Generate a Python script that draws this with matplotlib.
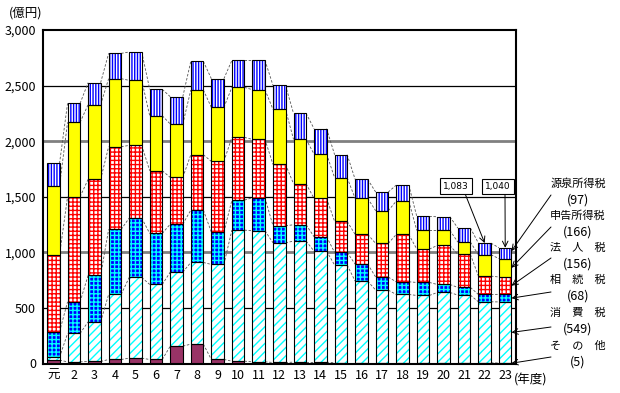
import matplotlib
matplotlib.use("Agg")
import matplotlib.pyplot as plt
import numpy as np

plt.rcParams['font.family'] = ['Noto Sans CJK JP', 'DejaVu Sans']
plt.rcParams['hatch.linewidth'] = 1.0

years = ['元'] + [str(i) for i in range(2, 24)]
other = [30, 15, 18, 36, 48, 36, 156, 174, 36, 21, 15, 9, 12, 12, 6, 6, 6, 6, 6, 6, 6, 6, 5]
consumption = [25, 255, 357, 585, 726, 675, 666, 735, 855, 1179, 1179, 1077, 1089, 999, 879, 735, 654, 615, 606, 633, 609, 549, 549]
inheritance = [230, 285, 417, 585, 534, 459, 432, 471, 291, 270, 297, 153, 147, 129, 114, 153, 117, 114, 117, 72, 69, 66, 68]
corporate = [690, 945, 864, 744, 654, 564, 420, 498, 636, 564, 525, 552, 369, 345, 279, 267, 303, 426, 300, 351, 297, 165, 156]
self_assessed = [624, 669, 672, 612, 585, 495, 480, 582, 486, 450, 447, 495, 399, 399, 393, 324, 294, 300, 168, 135, 111, 192, 166]
withholding = [201, 171, 198, 228, 255, 237, 246, 258, 258, 243, 264, 216, 234, 228, 207, 171, 168, 144, 126, 123, 126, 105, 97]

series_names = ['その他', '消費税', '相続税', '法人税', '申告所得税', '源泉所得税']
label_names = ['そ　の　他', '消　費　税', '相　続　税', '法　人　税', '申告所得税', '源泉所得税']
legend_values = ['(5)', '(549)', '(68)', '(156)', '(166)', '(97)']
callout_labels = ['1,083', '1,040']

series = [other, consumption, inheritance, corporate, self_assessed, withholding]
# (face, hatch colour, hatch)
styles = [
    ('#993366', None, None),
    ('white', '#00FFFF', '////'),
    ('#0000FF', '#00FFFF', '++++'),
    ('white', '#FF0000', '++++'),
    ('#FFFF00', None, None),
    ('white', '#0000FF', '||||||'),
]

W, H = 620, 393
fig = plt.figure(figsize=(W / 100, H / 100), dpi=100)
ax = fig.add_axes([43 / W, 1 - 363.5 / H, (515.5 - 43) / W, (363.5 - 30) / H])

n = len(years)
x = np.arange(n)
bw = 0.61

# grid lines
for v in [500, 1500, 2500]:
    ax.axhline(v, color='black', lw=0.9, zorder=0.5)
for v in [1000, 2000]:
    ax.axhline(v, color='#808080', lw=2.0, zorder=0.5)

bottom = np.zeros(n)
cums = []
for vals, (face, hc, hatch) in zip(series, styles):
    vals = np.array(vals, dtype=float)
    if hatch:
        ax.bar(x, vals, bw, bottom=bottom, facecolor=face, edgecolor=hc,
               hatch=hatch, linewidth=0, zorder=2)
    else:
        ax.bar(x, vals, bw, bottom=bottom, facecolor=face, linewidth=0, zorder=2)
    ax.bar(x, vals, bw, bottom=bottom, fill=False, edgecolor='black',
           linewidth=0.8, zorder=3)
    bottom = bottom + vals
    cums.append(bottom.copy())

# dashed connector lines
for c in cums:
    for i in range(n - 1):
        ax.plot([i + bw / 2, i + 1 - bw / 2], [c[i], c[i + 1]], color='#555555',
                lw=0.6, ls=(0, (3, 2)), zorder=1.5)

ax.set_xlim(-0.5, n - 0.5)
ax.set_ylim(0, 3000)
ax.set_yticks(np.arange(0, 3001, 500))
ax.set_yticklabels([f'{v:,}' for v in range(0, 3001, 500)], fontsize=9)
ax.set_xticks(x)
ax.set_xticklabels(years, fontsize=9)
ax.tick_params(axis='both', length=0)
ax.tick_params(axis='y', pad=5)
ax.tick_params(axis='x', pad=4)
for s in ax.spines.values():
    s.set_linewidth(1.5)
    s.set_color('black')
    s.set_zorder(4)


def ff(px, py):
    return (px / W, 1 - py / H)


fig.text(*ff(26, 13), '(億円)', fontsize=9, ha='center', va='center')
fig.text(*ff(531, 380), '(年度)', fontsize=9, ha='center', va='center')

# right-side legend labels with arrows
name_y = [346, 313, 280, 248, 216, 184]
val_y = [362, 329, 296, 264, 232, 200]
tail_y = [357, 327, 292, 258, 227, 195]
last = n - 1
for k in range(6):
    top = cums[k][last]
    seg = series[k][last]
    target = top - seg * (0.3 if k == 5 else 0.5)
    fig.text(*ff(578, name_y[k]), label_names[k], fontsize=8, ha='center', va='center')
    fig.text(*ff(578, val_y[k]), legend_values[k], fontsize=9, ha='center', va='center')
    ax.annotate('', xy=(last + bw / 2, target), xycoords='data',
                xytext=ff(551, tail_y[k]), textcoords='figure fraction',
                arrowprops=dict(arrowstyle='->', color='black', lw=0.7,
                                shrinkA=0, shrinkB=0), annotation_clip=False)

# callouts
box_pos = [(456, 186), (498, 186.5)]
tail_pos = [(465, 193.5), (505, 194)]
for j, idx in enumerate([n - 2, n - 1]):
    fig.text(*ff(*box_pos[j]), callout_labels[j], fontsize=6.5, ha='center', va='center',
             family=['DejaVu Sans'],
             bbox=dict(boxstyle='square,pad=0.35', facecolor='white', edgecolor='black', lw=0.8))
    ax.annotate('', xy=(idx, cums[-1][idx]), xycoords='data',
                xytext=ff(*tail_pos[j]), textcoords='figure fraction',
                arrowprops=dict(arrowstyle='->', color='black', lw=0.7,
                                shrinkA=0, shrinkB=0), annotation_clip=False)

fig.savefig('out.png', dpi=100)
